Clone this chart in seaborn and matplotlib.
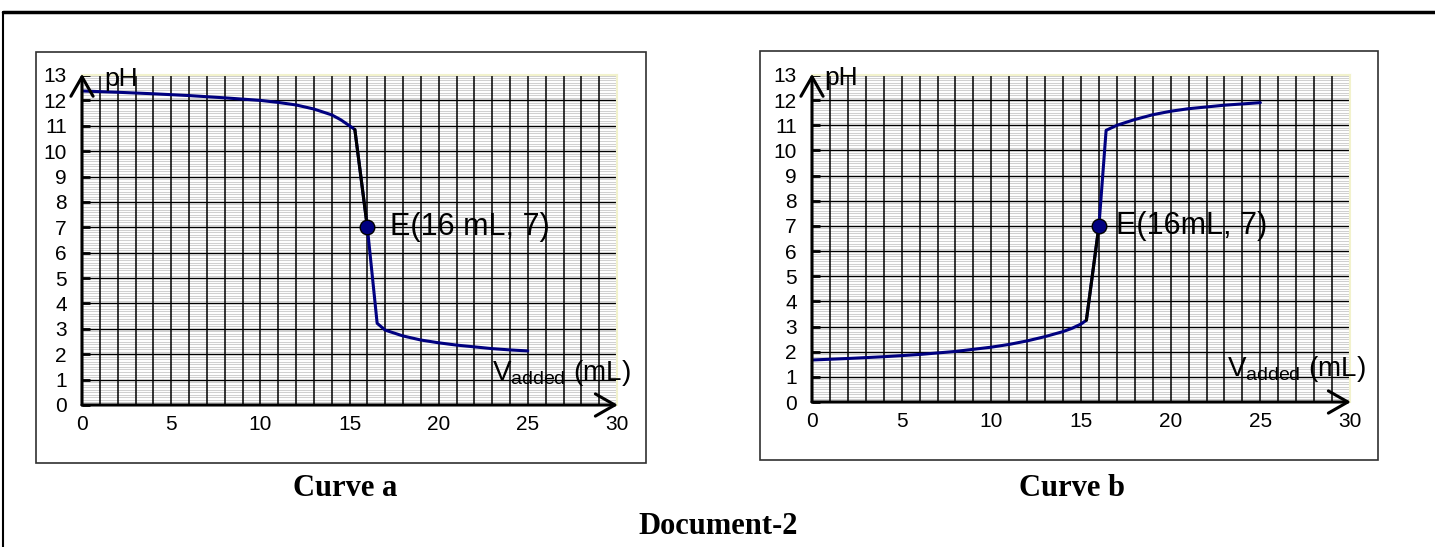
import numpy as np
import pandas as pd
import matplotlib
matplotlib.use("Agg")
import matplotlib.pyplot as plt
from matplotlib.ticker import MultipleLocator
from matplotlib.patches import Rectangle
from matplotlib.lines import Line2D
import seaborn as sns

# --- data ---
vol_a = [0, 2, 4, 6, 8, 10, 11, 12, 13, 14, 14.5, 15, 15.3, 16, 16.55, 17, 18, 19, 20, 21, 22, 23, 24, 25]
ph_a = [12.37, 12.32, 12.26, 12.19, 12.1, 12.0, 11.92, 11.82, 11.66, 11.43, 11.24, 11.0, 10.85,
        7.0, 3.22, 2.95, 2.72, 2.56, 2.45, 2.36, 2.29, 2.22, 2.17, 2.13]

vol_b = [0, 2, 4, 6, 8, 10, 11, 12, 13, 14, 14.5, 15, 15.3, 16, 16.4, 17, 18, 19, 20, 21, 22, 23, 24, 25]
ph_b = [1.67, 1.73, 1.8, 1.89, 2.01, 2.18, 2.29, 2.43, 2.6, 2.8, 2.93, 3.1, 3.25,
        7.0, 10.8, 11.0, 11.23, 11.42, 11.56, 11.66, 11.73, 11.8, 11.85, 11.9]

eq_vol = [16]
eq_ph = [7]
knee_vol = 15.3  # start of the black segment up to E

x_ticks = [0, 5, 10, 15, 20, 25, 30]
y_ticks = list(range(0, 14))
labels_e = ["E(16 mL, 7)", "E(16mL, 7)"]
titles = ["Curve a", "Curve b"]

sns.set_theme(style="white")
plt.rcParams["font.family"] = ["Liberation Sans", "DejaVu Sans"]
plt.rcParams["mathtext.fontset"] = "custom"
plt.rcParams["mathtext.rm"] = "Liberation Sans"
plt.rcParams["mathtext.it"] = "Liberation Sans"
plt.rcParams["text.color"] = "black"
plt.rcParams["xtick.color"] = "black"
plt.rcParams["ytick.color"] = "black"
plt.rcParams["xtick.labelcolor"] = "black"
plt.rcParams["ytick.labelcolor"] = "black"

W, H = 1435, 547
fig = plt.figure(figsize=(W / 100, H / 100), dpi=100)
fig.patch.set_facecolor("white")


def px(x0, y0, x1, y1):
    # pixel box (top-left origin) -> figure fraction rect
    return [x0 / W, 1 - y1 / H, (x1 - x0) / W, (y1 - y0) / H]


# outer page border and panel frames
fig.add_artist(Line2D([3 / W, 1], [1 - 12 / H, 1 - 12 / H], color="black", lw=2.5))
fig.add_artist(Line2D([3 / W, 3 / W], [0, 1 - 12 / H], color="black", lw=1.5))
for (x0, y0, x1, y1) in [(36, 52, 646, 463), (760, 51, 1378, 460)]:
    fig.add_artist(Rectangle((x0 / W, 1 - y1 / H), (x1 - x0) / W, (y1 - y0) / H,
                             transform=fig.transFigure, fill=False, ec="#303030", lw=1.2))

axes_px = [(82, 75, 617, 405), (812, 75, 1350, 402)]
panels = [(vol_a, ph_a, (1.25, 12.85), (17.25, 7.0), (23.0, 1.25)),
          (vol_b, ph_b, (0.7, 12.9), (16.95, 7.0), (23.15, 1.3))]

for i, (vol, ph, ph_pos, e_pos, v_pos) in enumerate(panels):
    ax = fig.add_axes(px(*axes_px[i]))
    df = pd.DataFrame({"vol": vol, "ph": ph})
    seg = df[(df["vol"] >= knee_vol) & (df["vol"] <= eq_vol[0])]

    sns.lineplot(data=df, x="vol", y="ph", ax=ax, color="#000080", lw=2.2,
                 estimator=None, sort=False, zorder=3)
    sns.lineplot(data=seg, x="vol", y="ph", ax=ax, color="black", lw=2.2,
                 estimator=None, sort=False, zorder=4)
    sns.scatterplot(x=eq_vol, y=eq_ph, ax=ax, s=110, color="#000080",
                    edgecolor="black", linewidth=1, zorder=5)

    ax.set_xlim(0, 30)
    ax.set_ylim(0, 13)
    ax.set_xticks(x_ticks)
    ax.set_yticks(y_ticks)
    ax.xaxis.set_minor_locator(MultipleLocator(1))
    ax.yaxis.set_minor_locator(MultipleLocator(0.1))
    ax.grid(which="minor", axis="y", color="#d0d0d0", lw=0.75)
    ax.grid(which="major", axis="y", color="black", lw=1.0)
    ax.grid(which="both", axis="x", color="black", lw=1.1)
    ax.set_axisbelow(True)
    ax.yaxis.set_zorder(0.3)
    ax.xaxis.set_zorder(0.6)

    ax.tick_params(axis="y", which="major", direction="in", length=6, width=2,
                   color="black", labelsize=15, pad=11, left=True)
    ax.tick_params(axis="y", which="minor", length=0)
    ax.tick_params(axis="x", which="both", length=0, labelsize=15, pad=7)
    ax.set_xlabel("")
    ax.set_ylabel("")

    for s in ["left", "bottom"]:
        ax.spines[s].set_visible(False)
    for s in ["top", "right"]:
        ax.spines[s].set_color("#f2f2cc")
        ax.spines[s].set_linewidth(1.5)

    arrow = dict(arrowstyle="->,head_length=0.7,head_width=0.4", lw=2.2, color="black",
                 mutation_scale=20, shrinkA=0, shrinkB=0)
    ax.annotate("", xy=(0, 13.05), xytext=(0, 0), arrowprops=arrow, annotation_clip=False)
    ax.annotate("", xy=(30.05, 0), xytext=(0, 0), arrowprops=arrow, annotation_clip=False)

    ax.text(ph_pos[0], ph_pos[1], "pH", fontsize=19, ha="left", va="center", zorder=6)
    ax.text(e_pos[0], e_pos[1], labels_e[i], fontsize=22, ha="left", va="center", zorder=6)
    ax.text(v_pos[0], v_pos[1], r"V$_{\mathregular{added}}$ (mL)", fontsize=20,
            ha="left", va="center", zorder=6, clip_on=False)

# captions
fig.text(345 / W, 1 - 488 / H, titles[0], family="Liberation Serif", weight="bold",
         fontsize=22, ha="center", va="center")
fig.text(1072 / W, 1 - 488 / H, titles[1], family="Liberation Serif", weight="bold",
         fontsize=22, ha="center", va="center")
fig.text(718 / W, 1 - 527 / H, "Document-2", family="Liberation Serif", weight="bold",
         fontsize=22, ha="center", va="center")

fig.savefig("out.png", dpi=100)
